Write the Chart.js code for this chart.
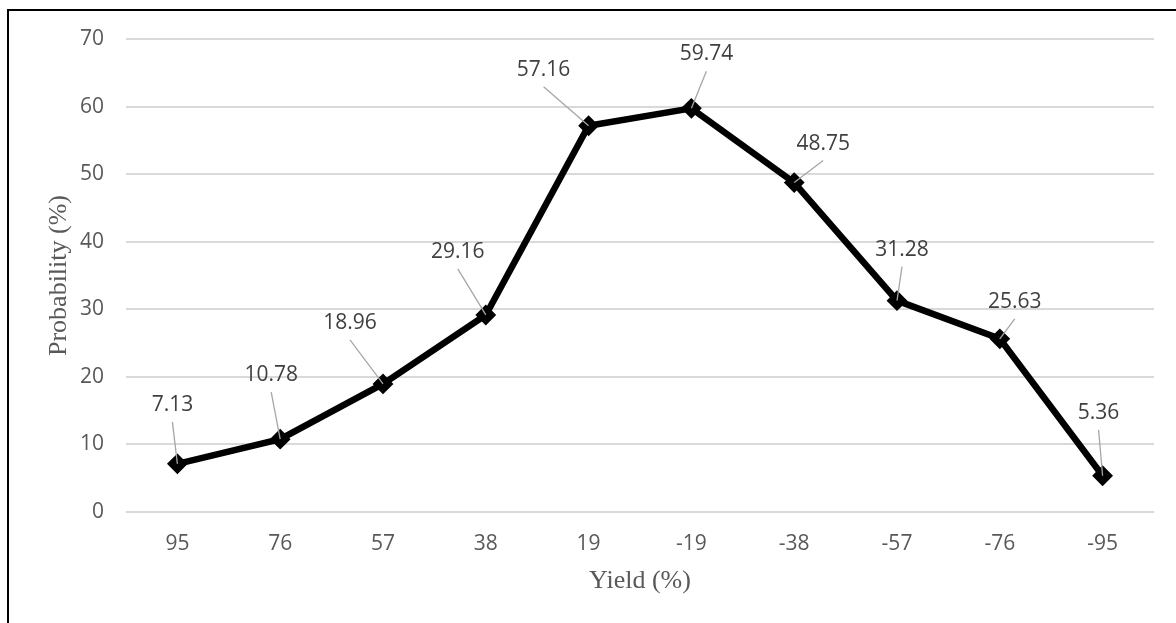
<!DOCTYPE html>
<html>
<head>
<meta charset="utf-8">
<script src="https://cdn.jsdelivr.net/npm/chart.js@4"></script>
<style>
  html, body { margin: 0; padding: 0; background: #fff; }
  #wrap { position: relative; width: 1176px; height: 623px; overflow: hidden; }
  #frame { position: absolute; left: 7px; top: 9px; width: 1300px; height: 700px;
           border-left: 2px solid #000; border-top: 2px solid #000; }
  canvas { position: absolute; left: 0; top: 0; }
</style>
</head>
<body>
<div id="wrap">
  <div id="frame"></div>
  <canvas id="chart" width="1176" height="623"></canvas>
</div>
<script>
const yieldLabels = ['95', '76', '57', '38', '19', '-19', '-38', '-57', '-76', '-95'];
const probability = [7.13, 10.78, 18.96, 29.16, 57.16, 59.74, 48.75, 31.28, 25.63, 5.36];
const yTicks = [0, 10, 20, 30, 40, 50, 60, 70];

// where each data label sits relative to its point (px), like the manually dragged Excel labels
const labelOffsets = [[-5, -59], [-9, -64], [-33, -61], [-28, -63], [-45, -56],
                      [15, -54], [29, -39], [5, -51], [15, -37], [-4, -63]];

const leaderLabels = {
  id: 'leaderLabels',
  afterDatasetsDraw(chart) {
    const ctx = chart.ctx;
    const meta = chart.getDatasetMeta(0);
    ctx.save();
    meta.data.forEach((pt, i) => {
      const [dx, dy] = labelOffsets[i];
      const lx = pt.x + dx, ly = pt.y + dy;
      ctx.strokeStyle = '#a6a6a6';
      ctx.lineWidth = 1.3;
      ctx.beginPath();
      ctx.moveTo(lx, ly + 17);
      ctx.lineTo(pt.x, pt.y);
      ctx.stroke();
      ctx.fillStyle = '#404040';
      ctx.font = "21px 'Open Sans'";
      ctx.textAlign = 'center';
      ctx.textBaseline = 'middle';
      ctx.fillText(probability[i].toFixed(2), lx, ly);
    });
    ctx.restore();
  }
};

const tickFont = { family: "'Open Sans'", size: 21 };
const titleFont = { family: "'Liberation Serif'", size: 26 };

new Chart(document.getElementById('chart').getContext('2d'), {
  type: 'line',
  data: {
    labels: yieldLabels,
    datasets: [{
      data: probability,
      borderColor: '#000',
      borderWidth: 6.5,
      tension: 0,
      pointStyle: 'rectRot',
      pointRadius: 9,
      pointBackgroundColor: '#000',
      pointBorderColor: '#000',
      pointBorderWidth: 2
    }]
  },
  options: {
    responsive: false,
    animation: false,
    layout: { padding: { left: 0, right: 22, top: 39, bottom: 0 } },
    plugins: { legend: { display: false }, tooltip: { enabled: false } },
    scales: {
      x: {
        offset: true,
        grid: { display: false, drawTicks: false },
        border: { display: false },
        ticks: { color: '#595959', font: tickFont, padding: 19 },
        title: { display: true, text: 'Yield (%)', color: '#595959', font: titleFont,
                 padding: { top: 0, bottom: 26 } },
        afterFit(s) { s.height = 111; }
      },
      y: {
        min: 0,
        max: 70,
        grid: { color: '#d9d9d9', lineWidth: 2, drawTicks: false },
        border: { display: false },
        afterBuildTicks(s) { s.ticks = yTicks.map(v => ({ value: v })); },
        ticks: { color: '#595959', font: tickFont, padding: 22 },
        title: { display: true, text: 'Probability (%)', color: '#595959', font: titleFont,
                 padding: { top: 44, bottom: 0 } },
        afterFit(s) { s.width = 126; }
      }
    }
  },
  plugins: [leaderLabels]
});
</script>
</body>
</html>
